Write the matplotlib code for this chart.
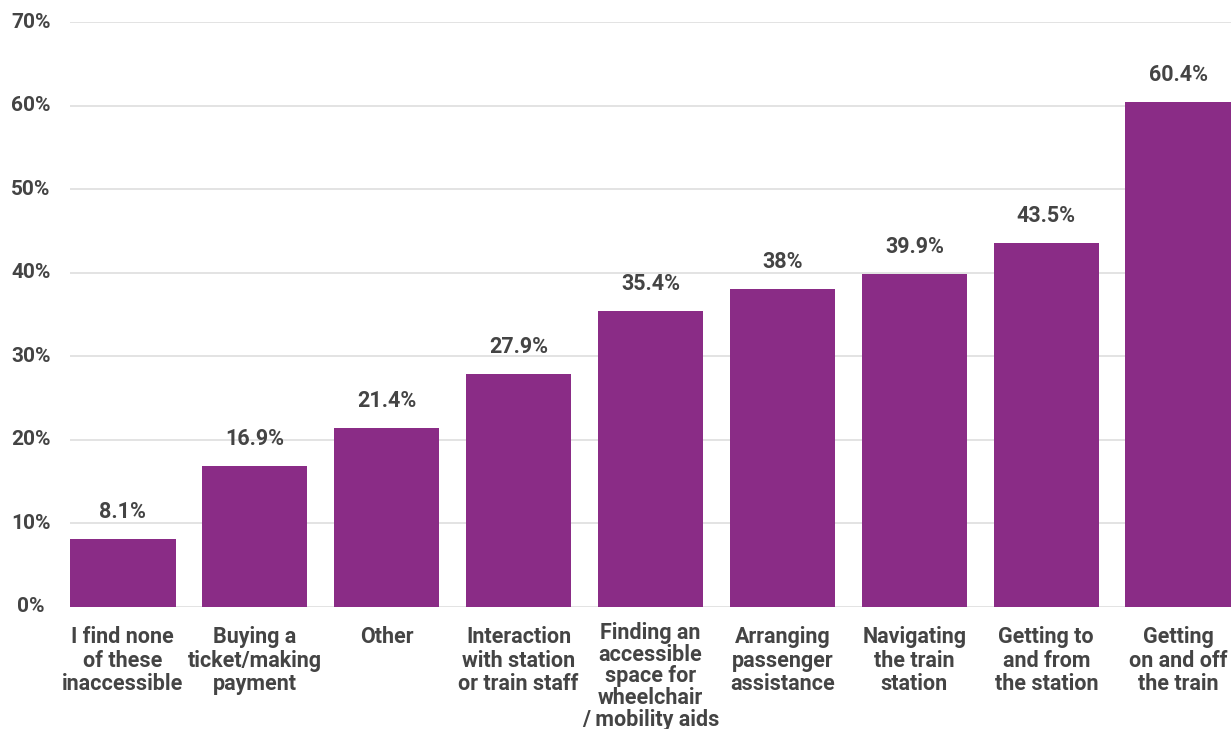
import matplotlib
matplotlib.use("Agg")
import matplotlib.pyplot as plt

categories = [
    "I find none\nof these\ninaccessible",
    "Buying a\nticket/making\npayment",
    "Other",
    "Interaction\nwith station\nor train staff",
    "Finding an\naccessible\nspace for\nwheelchair\n/ mobility aids",
    "Arranging\npassenger\nassistance",
    "Navigating\nthe train\nstation",
    "Getting to\nand from\nthe station",
    "Getting\non and off\nthe train",
]
values = [8.1, 16.9, 21.4, 27.9, 35.4, 38.0, 39.9, 43.5, 60.4]
value_labels = ["8.1%", "16.9%", "21.4%", "27.9%", "35.4%", "38%", "39.9%", "43.5%", "60.4%"]
yticks = [0, 10, 20, 30, 40, 50, 60, 70]
ytick_labels = ["0%", "10%", "20%", "30%", "40%", "50%", "60%", "70%"]

BAR = "#8A2C86"
TXT = "#444444"
plt.rcParams["font.family"] = ["Roboto", "DejaVu Sans"]

fig = plt.figure(figsize=(12.31, 7.29), dpi=100)
ax = fig.add_axes([70 / 1231, (729 - 607) / 729, (1231 - 70) / 1231, (607 - 22) / 729])

x = list(range(len(categories)))
ax.bar(x, values, width=0.8, color=BAR, zorder=2)
ax.set_xlim(-0.4, len(categories) - 0.6)
ax.set_ylim(0, 70)

for xi, v, lab in zip(x, values, value_labels):
    ax.annotate(lab, (xi, v), xytext=(0, 21), textcoords="offset pixels",
                ha="center", va="baseline", fontsize=15.5, fontweight="bold", color=TXT)

ax.set_yticks(yticks)
ax.set_yticklabels([])
for t, lab in zip(yticks, ytick_labels):
    ax.annotate(lab, (0, t), xycoords=("figure pixels", "data"), xytext=(31, 0),
                textcoords="offset pixels", ha="center", va="center",
                fontsize=15, fontweight="bold", color=TXT, annotation_clip=False)

ax.set_xticks(x)
ax.set_xticklabels([])
for xi, lab in zip(x, categories):
    n_lines = lab.count("\n") + 1
    long = n_lines > 3
    ax.annotate(lab, (xi, 0), xycoords=("data", "axes fraction"),
                xytext=(0, -15 if long else -19), textcoords="offset pixels",
                ha="center", va="top", multialignment="center",
                fontsize=15.5, fontweight="bold", color=TXT,
                linespacing=0.98 if long else 1.09, annotation_clip=False)
ax.tick_params(axis="both", length=0)
ax.grid(axis="y", color="#e0e0e0", linewidth=1.3, zorder=0)
for s in ax.spines.values():
    s.set_visible(False)

fig.savefig("out.png", dpi=100, facecolor="white")
